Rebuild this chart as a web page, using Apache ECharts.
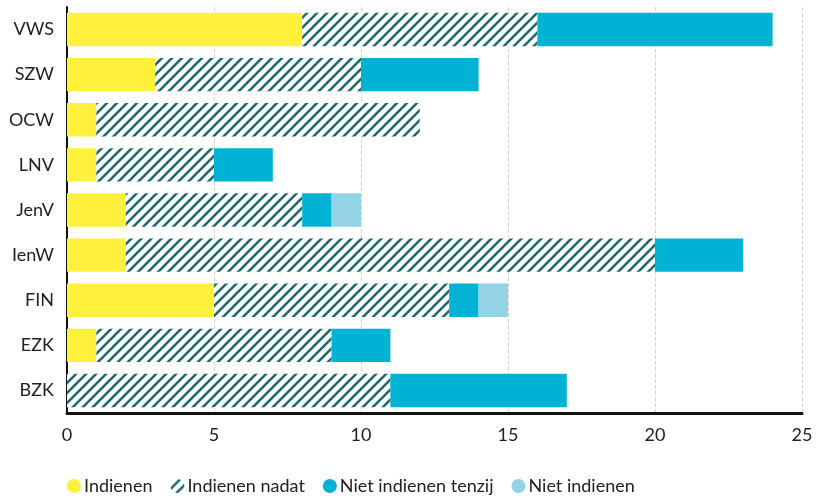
<!DOCTYPE html>
<html><head><meta charset="utf-8">
<script src="https://cdn.jsdelivr.net/npm/echarts@6/dist/echarts.min.js"></script>
<style>html,body{margin:0;padding:0;background:#fff}#c{width:818px;height:496px}</style>
</head><body><div id="c"></div>
<script>
const categories = ['VWS','SZW','OCW','LNV','JenV','IenW','FIN','EZK','BZK'];
const indienen      = [8, 3, 1, 1, 2, 2, 5, 1, 0];
const indienenNadat = [8, 7, 11, 4, 6, 18, 8, 8, 11];
const nietTenzij    = [8, 4, 0, 2, 1, 3, 1, 2, 6];
const nietIndienen  = [0, 0, 0, 0, 1, 0, 1, 0, 0];
const seriesNames = ['Indienen','Indienen nadat','Niet indienen tenzij','Niet indienen'];
const xTicks = [0,5,10,15,20,25];

function hatch(){
  const s = 10, cv = document.createElement('canvas');
  cv.width = s; cv.height = s;
  const g = cv.getContext('2d');
  g.fillStyle = '#ffffff'; g.fillRect(0,0,s,s);
  g.strokeStyle = '#1e6a70'; g.lineWidth = 2.6;
  g.beginPath();
  g.moveTo(-2, s+2); g.lineTo(s+2, -2);
  g.moveTo(-2, 2); g.lineTo(2, -2);
  g.moveTo(s-2, s+2); g.lineTo(s+2, s-2);
  g.stroke();
  return {image: cv, repeat: 'repeat'};
}
const pat = hatch();
const colors = ['#fff03c', pat, '#00b3d4', '#93d3e5'];
const datas = [indienen, indienenNadat, nietTenzij, nietIndienen];
const FONT = 'Lato';

const chart = echarts.init(document.getElementById('c'), null, {renderer:'canvas'});
chart.setOption({
  animation: false,
  grid: {left: 67, right: 16, top: 7, bottom: 83, containLabel: false},
  legend: {
    left: 62, top: 472, itemGap: 18, itemWidth: 14, itemHeight: 14,
    icon: 'circle',
    textStyle: {fontFamily: FONT, fontSize: 18, color: '#222', padding:[0,0,0,-2]},
    data: seriesNames
  },
  xAxis: {
    type: 'value', min: xTicks[0], max: xTicks[xTicks.length-1], interval: 5,
    axisLine: {show: true, lineStyle: {color: '#111', width: 3}},
    axisTick: {show: false},
    axisLabel: {fontFamily: FONT, fontSize: 18, color: '#222', margin: 13},
    splitLine: {show: true, lineStyle: {color: '#d6d6d6', type: 'dashed', width: 1}}
  },
  yAxis: {
    type: 'category', data: categories, inverse: true,
    axisLine: {show: true, lineStyle: {color: '#111', width: 2}},
    axisTick: {show: false},
    axisLabel: {fontFamily: FONT, fontSize: 18, color: '#222', margin: 13}
  },
  series: seriesNames.map((n, i) => ({
    name: n, type: 'bar', stack: 'a', barWidth: '74%',
    itemStyle: {color: colors[i]},
    data: datas[i]
  }))
});
</script></body></html>
